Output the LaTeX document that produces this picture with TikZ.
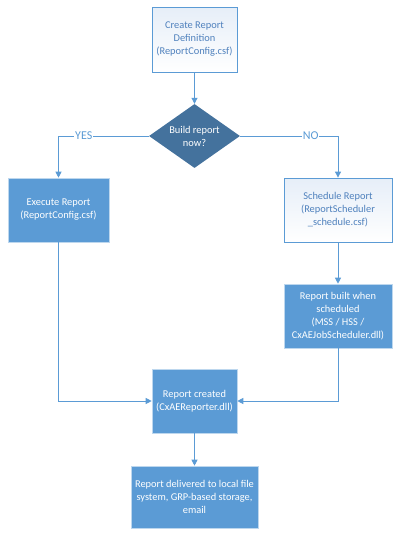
\documentclass[tikz,border=0pt]{standalone}
\usepackage{fontspec}
\setmainfont{Carlito}
\usetikzlibrary{shapes.geometric,arrows.meta,calc}
\definecolor{obl}{HTML}{5B9BD5}
\definecolor{odk}{HTML}{44729D}
\definecolor{otx}{HTML}{4F81BD}
\definecolor{olt}{HTML}{E6EEF8}
\tikzset{
  base/.style={rectangle,align=center,inner sep=1pt,font=\fontsize{10.4}{13}\selectfont},
  lightbox/.style={base,draw=obl,line width=0.8pt,top color=olt,bottom color=white,text=otx},
  darkbox/.style={base,draw=obl!40,line width=0.6pt,fill=obl,text=white},
  decision/.style={diamond,aspect=2,inner sep=0pt,fill=odk,text=white,align=center,font=\fontsize{10.4}{13}\selectfont},
  conn/.style={draw=obl,line width=0.9pt,-{Triangle[width=6pt,length=6pt]}},
  lbl/.style={fill=white,text=obl,font=\fontsize{12}{14}\selectfont,inner sep=1pt}
}
\begin{document}
\begin{tikzpicture}[x=1pt,y=-1pt]
\useasboundingbox (0,0) rectangle (400,538);
\node[lightbox,minimum width=85pt,minimum height=65pt] (create) at (194.5,39.5) {Create Report\\Definition\\(ReportConfig.csf)};
\node[decision,minimum width=85pt,minimum height=64pt] (dec) at (194.5,136) {Build report\\now?};
\node[darkbox,minimum width=101pt,minimum height=64pt] (exec) at (58.5,210) {Execute Report\\(ReportConfig.csf)};
\node[lightbox,minimum width=108pt,minimum height=64pt] (sched) at (338,210) {Schedule Report\\(ReportScheduler\\\_schedule.csf)};
\node[darkbox,minimum width=108pt,minimum height=64pt] (built) at (338,316) {Report built when\\scheduled\\(MSS / HSS /\\CxAEJobScheduler.dll)};
\node[darkbox,minimum width=85pt,minimum height=64pt] (created) at (194.5,401) {Report created\\(CxAEReporter.dll)};
\node[darkbox,minimum width=127pt,minimum height=62pt] (deliv) at (194.5,497) {Report delivered to local file\\system, GRP-based storage,\\email};
\draw[conn] (create) -- (dec);
\draw[conn] (dec.west) -| node[lbl,pos=0.36] (yes) {YES} (exec.north);
\draw[conn] (dec.east) -| node[lbl,pos=0.36] (no) {NO} (sched.north);
\draw[conn] (sched) -- (built);
\draw[conn] (exec.south) |- (created.west);
\draw[conn] (built.south) |- (created.east);
\draw[conn] (created) -- (deliv);
\end{tikzpicture}
\end{document}
